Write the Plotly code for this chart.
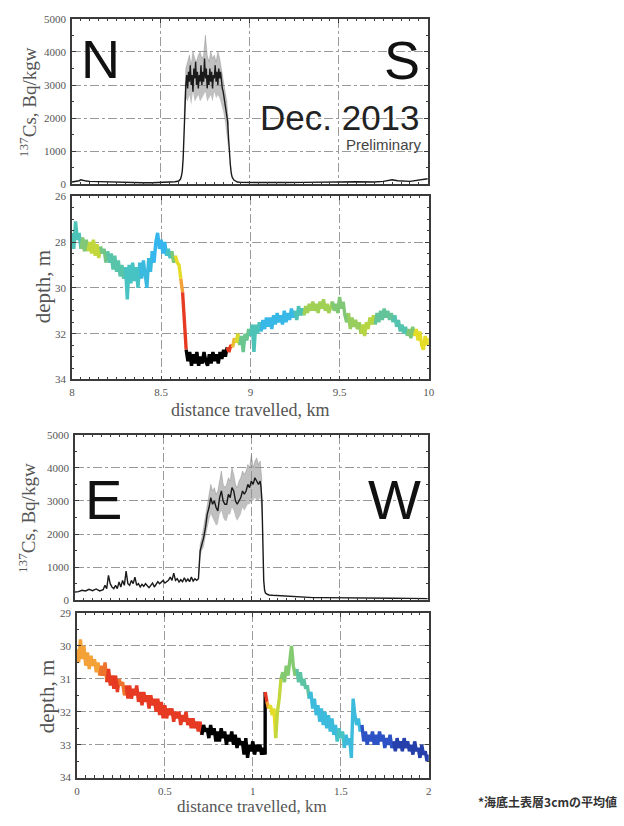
import plotly.graph_objects as go
from plotly.colors import sample_colorscale

W, H = 624, 826

# ---------------- data ----------------
# N-S line: 137Cs concentration (Bq/kg-wet) along distance (km)
ns_cs_km = [8.00, 8.02, 8.04, 8.05, 8.06, 8.08, 8.10, 8.15, 8.20, 8.25,
            8.30, 8.35, 8.40, 8.45, 8.50, 8.55, 8.58, 8.60, 8.61, 8.615,
            8.62, 8.625, 8.63, 8.635, 8.64,
            8.645, 8.65, 8.655, 8.66, 8.665, 8.67, 8.675, 8.68, 8.685, 8.69,
            8.695, 8.70, 8.705, 8.71, 8.715, 8.72, 8.725, 8.73, 8.735, 8.74,
            8.745, 8.75, 8.755, 8.76, 8.765, 8.77, 8.775, 8.78, 8.785, 8.79,
            8.795, 8.80, 8.805, 8.81, 8.815, 8.82, 8.825, 8.83, 8.835, 8.84,
            8.845, 8.85, 8.855, 8.86, 8.865, 8.87, 8.875, 8.88, 8.885, 8.89,
            8.895, 8.90, 8.91, 8.92, 8.93, 8.95, 9.00, 9.10, 9.20, 9.30,
            9.40, 9.50, 9.55, 9.60, 9.70, 9.75, 9.80, 9.83, 9.90, 9.95, 10.00]
ns_cs = [70, 80, 110, 140, 120, 100, 90, 80, 70, 65,
         60, 55, 50, 50, 55, 60, 80, 100, 160, 250,
         400, 800, 1700, 2600, 3000,
         3300, 2900, 3400, 3100, 3600, 3000, 3300, 2800, 3500, 3200,
         3700, 3000, 3400, 2900, 3300, 3100, 3600, 3000, 3400, 3100,
         3800, 3200, 3500, 2900, 3300, 3000, 3500, 3100, 3400, 2900,
         3300, 3200, 3600, 3100, 3400, 3000, 3500, 3200, 3400, 3100,
         2900, 2800, 2600, 2500, 2300, 2100, 1900, 1400, 900, 600,
         350, 220, 130, 90, 70, 60, 55, 50, 55, 60,
         70, 80, 90, 80, 70, 90, 140, 110, 90, 120, 170]
ns_band_km = [8.63, 8.64, 8.65, 8.66, 8.67, 8.68, 8.69, 8.70, 8.71, 8.72,
              8.73, 8.74, 8.75, 8.76, 8.77, 8.78, 8.79, 8.80, 8.81, 8.82,
              8.83, 8.84, 8.85, 8.86, 8.87, 8.88]
ns_band_hi = [2000, 3500, 3700, 3900, 3600, 4000, 3800, 3700, 3900, 4000,
              3800, 3900, 4500, 3900, 3700, 4000, 3800, 3900, 3700, 4000,
              3800, 3500, 3200, 2900, 2500, 1800]
ns_band_lo = [1500, 2600, 2500, 2700, 2400, 2800, 2500, 2600, 2700, 2500,
              2600, 2700, 2800, 2500, 2600, 2700, 2500, 2800, 2600, 2700,
              2600, 2400, 2200, 1900, 1500, 1000]

# N-S line: depth (m)
ns_depth_km = [8.00, 8.01, 8.02, 8.03, 8.04, 8.05, 8.06, 8.07, 8.08, 8.09,
               8.10, 8.11, 8.12, 8.13, 8.14, 8.15, 8.16, 8.17, 8.18, 8.19,
               8.20, 8.21, 8.22, 8.23, 8.24, 8.25, 8.26, 8.27, 8.28, 8.29,
               8.30, 8.31, 8.32, 8.33, 8.34, 8.35, 8.36, 8.37, 8.38, 8.39,
               8.40, 8.41, 8.42, 8.43, 8.44, 8.45, 8.46, 8.47, 8.48, 8.49,
               8.50, 8.51, 8.52, 8.53, 8.54, 8.55, 8.56, 8.57, 8.58, 8.59,
               8.60, 8.61, 8.62, 8.63, 8.64, 8.65, 8.66, 8.67, 8.68, 8.69,
               8.70, 8.71, 8.72, 8.73, 8.74, 8.75, 8.76, 8.77, 8.78, 8.79,
               8.80, 8.81, 8.82, 8.83, 8.84, 8.85, 8.86, 8.87, 8.88, 8.89,
               8.90, 8.91, 8.92, 8.93, 8.94, 8.95, 8.96, 8.97, 8.98, 8.99,
               9.00, 9.01, 9.02, 9.03, 9.04, 9.05, 9.06, 9.07, 9.08, 9.09,
               9.10, 9.11, 9.12, 9.13, 9.14, 9.15, 9.16, 9.17, 9.18, 9.19,
               9.20, 9.21, 9.22, 9.23, 9.24, 9.25, 9.26, 9.27, 9.28, 9.29,
               9.30, 9.31, 9.32, 9.33, 9.34, 9.35, 9.36, 9.37, 9.38, 9.39,
               9.40, 9.41, 9.42, 9.43, 9.44, 9.45, 9.46, 9.47, 9.48, 9.49,
               9.50, 9.51, 9.52, 9.53, 9.54, 9.55, 9.56, 9.57, 9.58, 9.59,
               9.60, 9.61, 9.62, 9.63, 9.64, 9.65, 9.66, 9.67, 9.68, 9.69,
               9.70, 9.71, 9.72, 9.73, 9.74, 9.75, 9.76, 9.77, 9.78, 9.79,
               9.80, 9.81, 9.82, 9.83, 9.84, 9.85, 9.86, 9.87, 9.88, 9.89,
               9.90, 9.91, 9.92, 9.93, 9.94, 9.95, 9.96, 9.97, 9.98, 9.99, 10.00]
ns_depth = [27.6, 28.3, 27.1, 27.9, 27.6, 28.3, 27.8, 28.4, 27.9, 28.4,
            28.0, 28.5, 27.9, 28.6, 28.1, 28.7, 28.2, 28.5, 28.3, 28.9,
            28.4, 28.9, 28.5, 29.2, 28.6, 29.3, 28.8, 29.5, 29.0, 29.6,
            29.1, 30.5, 29.0, 29.8, 28.9, 29.7, 29.1, 30.0, 28.9, 29.6,
            28.8, 29.5, 30.0, 28.7, 29.3, 28.4, 28.9, 28.0, 27.6, 28.3,
            27.9, 28.5, 28.0, 28.6, 28.3, 28.7, 28.4, 28.9, 28.6, 28.9,
            29.0, 29.6, 30.2, 31.6, 32.7, 33.2, 32.8, 33.4, 32.9, 33.3,
            32.8, 33.4, 33.0, 33.3, 32.8, 33.2, 33.4, 32.9, 33.3, 32.8,
            33.2, 32.9, 33.3, 32.8, 33.1, 32.7, 33.0, 32.6, 32.8, 32.5,
            32.6, 32.2, 32.4, 32.0, 32.5, 32.1, 32.8, 32.0, 32.3, 31.8,
            32.1, 31.6, 32.8, 31.6, 32.0, 31.5, 31.9, 31.4, 31.8, 31.3,
            31.7, 31.3, 31.8, 31.2, 31.6, 31.1, 31.5, 31.2, 31.6, 31.0,
            31.5, 31.1, 31.4, 30.9, 31.3, 31.0, 31.4, 30.8, 31.2, 30.9,
            31.2, 30.8, 31.1, 30.7, 31.0, 30.6, 31.0, 30.7, 31.1, 30.6,
            30.9, 30.5, 31.0, 30.7, 31.1, 30.8, 30.6, 31.0, 30.7, 31.1,
            30.4, 30.9, 30.6, 31.2, 31.5, 31.1, 31.8, 31.3, 31.7, 31.4,
            31.8, 31.5, 32.0, 31.6, 32.1, 31.5, 31.8, 31.3, 31.6, 31.2,
            31.6, 31.1, 31.5, 31.0, 31.4, 30.9, 31.3, 31.0, 31.4, 31.1,
            31.5, 31.2, 31.7, 31.4, 31.9, 31.6, 32.0, 31.7, 32.1, 31.8,
            32.2, 31.7, 32.1, 31.8, 32.3, 31.9, 32.5, 32.7, 32.1, 32.5, 32.2]
# colour of the depth trace = relative 137Cs level (0 low .. 1 high), by stretch start
ns_color_from_km = [8.00, 8.05, 8.09, 8.16, 8.20, 8.30, 8.38, 8.45, 8.53, 8.56,
                    8.58, 8.61, 8.62, 8.64, 8.87, 8.90, 8.92, 8.94, 9.00, 9.06,
                    9.25, 9.30, 9.46, 9.55, 9.62, 9.70, 9.80, 9.88, 9.92]
ns_color_level = [0.42, 0.55, 0.68, 0.52, 0.45, 0.40, 0.32, 0.28, 0.40, 0.55,
                  0.74, 0.84, 0.93, 1.0, 0.93, 0.80, 0.72, 0.50, 0.42, 0.30,
                  0.42, 0.62, 0.55, 0.60, 0.66, 0.48, 0.44, 0.55, 0.74]

# E-W line: 137Cs
ew_cs_km = [0.00, 0.02, 0.04, 0.06, 0.08, 0.10, 0.12, 0.14, 0.16, 0.17,
            0.18, 0.19, 0.20, 0.21, 0.22, 0.23, 0.24, 0.25, 0.26, 0.27,
            0.28, 0.29, 0.30, 0.31, 0.32, 0.33, 0.34, 0.35, 0.36, 0.37,
            0.38, 0.39, 0.40, 0.41, 0.42, 0.43, 0.44, 0.45, 0.46, 0.47,
            0.48, 0.49, 0.50, 0.51, 0.52, 0.53, 0.54, 0.55, 0.56, 0.57,
            0.58, 0.59, 0.60, 0.61, 0.62, 0.63, 0.64, 0.65, 0.66, 0.67,
            0.68, 0.69, 0.70, 0.705, 0.71, 0.72, 0.73, 0.74, 0.75, 0.76,
            0.77, 0.78, 0.79, 0.80, 0.81, 0.82, 0.83, 0.84, 0.85, 0.86,
            0.87, 0.88, 0.89, 0.90, 0.91, 0.92, 0.93, 0.94, 0.95, 0.96,
            0.97, 0.98, 0.99, 1.00, 1.01, 1.02, 1.03, 1.04, 1.05, 1.055,
            1.06, 1.065, 1.07, 1.075, 1.08, 1.09, 1.10, 1.12, 1.15, 1.20,
            1.25, 1.30, 1.35, 1.40, 1.50, 1.60, 1.70, 1.75, 1.80, 1.90, 2.00]
ew_cs = [250, 260, 300, 280, 330, 290, 340, 280, 320, 450,
         350, 750, 500, 400, 350, 450, 350, 550, 400, 600,
         450, 880, 500, 450, 600, 500, 700, 450, 500, 400,
         480, 420, 500, 420, 380, 450, 520, 400, 480, 560,
         500, 540, 600, 520, 560, 600, 700, 600, 820, 600,
         650, 550, 620, 560, 680, 570, 640, 560, 700, 580,
         650, 600, 650, 1100, 1500, 1700, 1900, 2200, 2600, 2800,
         3100, 2900, 3000, 2800, 2700, 3100, 3300, 3000, 2900, 2900,
         3200, 3100, 3400, 3300, 3000, 2900, 3000, 3100, 3300, 3200,
         3300, 3500, 3400, 3600, 3500, 3700, 3600, 3500, 3600, 3400,
         3000, 1500, 600, 300, 220, 180, 160, 150, 140, 130,
         110, 90, 80, 80, 70, 75, 70, 65, 60, 55, 50]
ew_band_km = [0.70, 0.71, 0.72, 0.73, 0.74, 0.75, 0.76, 0.77, 0.78, 0.79,
              0.80, 0.81, 0.82, 0.83, 0.84, 0.85, 0.86, 0.87, 0.88, 0.89,
              0.90, 0.91, 0.92, 0.93, 0.94, 0.95, 0.96, 0.97, 0.98, 0.99,
              1.00, 1.01, 1.02, 1.03, 1.04, 1.05, 1.06]
ew_band_hi = [800, 1700, 1900, 2200, 2500, 2900, 3200, 3500, 3300, 3400,
              3200, 3300, 3600, 3900, 3500, 3400, 3500, 3700, 3600, 4000,
              3800, 3500, 3400, 3600, 3700, 3900, 3800, 3900, 4100, 4000,
              4400, 4000, 4200, 4300, 4100, 4200, 3600]
ew_band_lo = [500, 1300, 1500, 1600, 1900, 2200, 2400, 2600, 2500, 2400,
              2260, 2300, 2600, 2700, 2500, 2400, 2400, 2600, 2600, 2800,
              2700, 2500, 2400, 2500, 2600, 2800, 2700, 2800, 2900, 2900,
              3000, 3000, 3100, 3000, 3000, 3100, 2500]

# E-W line: depth
ew_depth_km = [0.00, 0.01, 0.02, 0.03, 0.04, 0.05, 0.06, 0.07, 0.08, 0.09,
               0.10, 0.11, 0.12, 0.13, 0.14, 0.15, 0.16, 0.17, 0.18, 0.19,
               0.20, 0.21, 0.22, 0.23, 0.24, 0.25, 0.26, 0.27, 0.28, 0.29,
               0.30, 0.31, 0.32, 0.33, 0.34, 0.35, 0.36, 0.37, 0.38, 0.39,
               0.40, 0.41, 0.42, 0.43, 0.44, 0.45, 0.46, 0.47, 0.48, 0.49,
               0.50, 0.51, 0.52, 0.53, 0.54, 0.55, 0.56, 0.57, 0.58, 0.59,
               0.60, 0.61, 0.62, 0.63, 0.64, 0.65, 0.66, 0.67, 0.68, 0.69,
               0.70, 0.71, 0.72, 0.73, 0.74, 0.75, 0.76, 0.77, 0.78, 0.79,
               0.80, 0.81, 0.82, 0.83, 0.84, 0.85, 0.86, 0.87, 0.88, 0.89,
               0.90, 0.91, 0.92, 0.93, 0.94, 0.95, 0.96, 0.97, 0.98, 0.99,
               1.00, 1.01, 1.02, 1.03, 1.04, 1.05, 1.06, 1.07,
               1.07, 1.08, 1.09,
               1.10, 1.11, 1.12, 1.13, 1.14, 1.15, 1.16, 1.17, 1.18, 1.19,
               1.20, 1.21, 1.22, 1.23, 1.24, 1.25, 1.26, 1.27, 1.28, 1.29,
               1.30, 1.31, 1.32, 1.33, 1.34, 1.35, 1.36, 1.37, 1.38, 1.39,
               1.40, 1.41, 1.42, 1.43, 1.44, 1.45, 1.46, 1.47, 1.48, 1.49,
               1.50, 1.51, 1.52, 1.53, 1.54, 1.55, 1.56, 1.57, 1.58, 1.59,
               1.60, 1.61, 1.62, 1.63, 1.64, 1.65, 1.66, 1.67, 1.68, 1.69,
               1.70, 1.71, 1.72, 1.73, 1.74, 1.75, 1.76, 1.77, 1.78, 1.79,
               1.80, 1.81, 1.82, 1.83, 1.84, 1.85, 1.86, 1.87, 1.88, 1.89,
               1.90, 1.91, 1.92, 1.93, 1.94, 1.95, 1.96, 1.97, 1.98, 1.99, 2.00]
ew_depth = [30.1, 30.5, 29.8, 30.4, 30.0, 30.6, 30.2, 30.7, 30.3, 30.6,
            30.4, 30.8, 30.5, 30.9, 30.6, 30.9, 30.5, 31.1, 30.7, 31.2,
            30.9, 31.3, 30.9, 31.4, 31.0, 31.2, 31.1, 31.5, 31.2, 31.6,
            31.2, 31.6, 31.3, 31.5, 31.2, 31.7, 31.4, 31.8, 31.4, 31.7,
            31.5, 31.9, 31.5, 31.8, 31.6, 32.0, 31.6, 32.1, 31.7, 32.2,
            31.8, 32.2, 31.9, 32.1, 31.9, 32.3, 32.0, 32.2, 32.0, 32.4,
            32.1, 32.3, 32.0, 32.4, 32.2, 32.5, 32.2, 32.5, 32.3, 32.6,
            32.3, 32.7, 32.4, 32.6, 32.5, 32.8, 32.4, 32.7, 32.5, 32.9,
            32.6, 32.9, 32.5, 32.8, 32.6, 33.0, 32.7, 32.9, 32.6, 33.0,
            32.7, 33.1, 32.8, 33.0, 32.9, 33.3, 32.8, 33.4, 33.0, 33.2,
            32.9, 33.3, 33.0, 33.2, 33.0, 33.3, 33.1, 33.3,
            31.4, 31.7, 31.9,
            31.8, 32.1, 31.9, 32.8, 32.0, 31.6, 31.0, 30.8, 31.1, 30.6,
            30.9, 30.4, 30.0, 30.6, 30.9, 30.7, 31.1, 30.8, 31.2, 31.0,
            31.3, 31.2, 31.6, 31.4, 31.9, 31.6, 32.1, 31.8, 32.3, 31.9,
            32.4, 32.0, 32.5, 32.1, 32.6, 32.2, 32.7, 32.4, 32.9, 32.5,
            32.8, 32.6, 33.1, 32.7, 33.0, 32.8, 33.4, 31.6, 32.1, 32.4,
            32.2, 32.6, 32.4, 32.9, 32.6, 33.0, 32.7, 32.9, 32.6, 33.0,
            32.7, 33.0, 32.6, 32.9, 32.7, 33.1, 32.8, 33.0, 32.7, 33.1,
            32.9, 33.2, 32.8, 33.1, 32.9, 33.2, 32.8, 33.1, 32.9, 33.2,
            33.0, 33.3, 32.9, 33.2, 33.1, 33.4, 33.0, 33.3, 33.2, 33.5, 33.3]
ew_color_from_km = [0.00, 0.13, 0.17, 0.24, 0.28, 0.71, 1.072, 1.085, 1.095, 1.13,
                    1.16, 1.25, 1.32, 1.48, 1.52, 1.62, 1.80]
ew_color_level = [0.84, 0.88, 0.93, 0.88, 0.93, 1.0, 0.93, 0.84, 0.74, 0.68,
                  0.56, 0.46, 0.33, 0.40, 0.33, 0.12, 0.06]

cs_ticks = [0, 1000, 2000, 3000, 4000, 5000]
ns_km_ticks = [8, 8.5, 9, 9.5, 10]
ew_km_ticks = [0, 0.5, 1, 1.5, 2]
ns_depth_ticks = [26, 28, 30, 32, 34]
ew_depth_ticks = [29, 30, 31, 32, 33, 34]

# ---------------- styling ----------------
CSCALE = [[0.0, '#1f2f8f'], [0.12, '#2d52c6'], [0.28, '#35b6ee'], [0.40, '#46c3c2'],
          [0.52, '#71c585'], [0.64, '#abd34a'], [0.74, '#e4dc26'], [0.84, '#f4a238'],
          [0.93, '#e63a22'], [0.97, '#8a1a10'], [1.0, '#000000']]
SERIF = 'Liberation Serif, Times New Roman, serif'
SANS = 'Liberation Sans, Arial, sans-serif'
FRAME = '#3a3a3a'
GRID = '#9a9a9a'
TICKFONT = dict(family=SERIF, size=11, color='#555555')


def px_x(p):
    return p / W


def px_y(p):
    return 1 - p / H


fig = go.Figure()


def level_at(x, breaks, levels):
    lev = levels[0]
    for b, l in zip(breaks, levels):
        if x >= b - 1e-9:
            lev = l
    return lev


def add_depth(xs, ys, breaks, levels, xa, ya):
    seg = [level_at((xs[i] + xs[i + 1]) / 2, breaks, levels) for i in range(len(xs) - 1)]
    start = 0
    for i in range(1, len(seg) + 1):
        if i == len(seg) or seg[i] != seg[start]:
            color = sample_colorscale(CSCALE, [seg[start]])[0]
            fig.add_trace(go.Scatter(x=xs[start:i + 1], y=ys[start:i + 1], mode='lines',
                                     line=dict(color=color, width=3.4),
                                     xaxis=xa, yaxis=ya, showlegend=False, hoverinfo='skip'))
            start = i


def add_cs(xs, ys, bx, blo, bhi, xa, ya):
    fig.add_trace(go.Scatter(x=bx, y=blo, mode='lines', line=dict(width=0, color='rgba(0,0,0,0)'),
                             xaxis=xa, yaxis=ya, showlegend=False, hoverinfo='skip'))
    fig.add_trace(go.Scatter(x=bx, y=bhi, mode='lines', line=dict(width=0.6, color='rgba(120,120,120,0.6)'),
                             fill='tonexty', fillcolor='rgba(140,140,140,0.55)',
                             xaxis=xa, yaxis=ya, showlegend=False, hoverinfo='skip'))
    fig.add_trace(go.Scatter(x=xs, y=ys, mode='lines', line=dict(color='#1a1a1a', width=1.4),
                             xaxis=xa, yaxis=ya, showlegend=False, hoverinfo='skip'))


add_cs(ns_cs_km, ns_cs, ns_band_km, ns_band_lo, ns_band_hi, 'x', 'y')
add_depth(ns_depth_km, ns_depth, ns_color_from_km, ns_color_level, 'x2', 'y2')
add_cs(ew_cs_km, ew_cs, ew_band_km, ew_band_lo, ew_band_hi, 'x3', 'y3')
add_depth(ew_depth_km, ew_depth, ew_color_from_km, ew_color_level, 'x4', 'y4')


def xax(dom, rng, ticks, show, anchor):
    return dict(domain=dom, range=rng, tickvals=ticks, showticklabels=show, anchor=anchor,
                showline=True, linecolor=FRAME, linewidth=1.5, mirror='allticks',
                ticks='inside', ticklen=4, tickcolor=FRAME, tickwidth=1.2,
                minor=dict(ticks='inside', ticklen=2.5, dtick=0.05, tickcolor=FRAME, showgrid=False),
                showgrid=True, gridcolor=GRID, gridwidth=1, griddash='dashdot',
                zeroline=False, tickfont=TICKFONT, ticklabelstandoff=2)


def yax(dom, rng, ticks, anchor, mdt):
    return dict(domain=dom, range=rng, tickvals=ticks, anchor=anchor,
                showline=True, linecolor=FRAME, linewidth=1.5, mirror='allticks',
                ticks='inside', ticklen=4, tickcolor=FRAME, tickwidth=1.2,
                minor=dict(ticks='inside', ticklen=2.5, dtick=mdt, tickcolor=FRAME, showgrid=False),
                showgrid=True, gridcolor=GRID, gridwidth=1, griddash='dashdot',
                zeroline=False, tickfont=TICKFONT, ticklabelstandoff=2)


layout = dict(
    width=W, height=H, margin=dict(l=0, r=0, t=0, b=0),
    paper_bgcolor='white', plot_bgcolor='white', showlegend=False,
    xaxis=xax([px_x(70), px_x(431)], [8, 10], ns_km_ticks, False, 'y'),
    yaxis=yax([px_y(181), px_y(13)], [0, 5000], cs_ticks, 'x', 500),
    xaxis2=xax([px_x(70), px_x(432)], [8, 10], ns_km_ticks, True, 'y2'),
    yaxis2=yax([px_y(379), px_y(193)], [34, 26], ns_depth_ticks, 'x2', 0.5),
    xaxis3=xax([px_x(73), px_x(431)], [0, 2], ew_km_ticks, False, 'y3'),
    yaxis3=yax([px_y(603), px_y(435)], [0, 5000], cs_ticks, 'x3', 500),
    xaxis4=xax([px_x(75), px_x(432)], [0, 2], ew_km_ticks, True, 'y4'),
    yaxis4=yax([px_y(783), px_y(616)], [34, 29], ew_depth_ticks, 'x4', 0.5),
)
fig.update_layout(**layout)


def ann(text, cx, cy, size, family, color='#222', angle=0, xanchor='center', weight='normal'):
    fig.add_annotation(text=text, x=px_x(cx), y=px_y(cy), xref='paper', yref='paper',
                       xanchor=xanchor, yanchor='middle', showarrow=False, textangle=angle,
                       font=dict(family=family, size=size, color=color, weight=weight))


AXT = '#555555'
ann('<sup>137</sup>Cs, Bq/kgw', 25, 98, 19, SERIF, AXT, -90)
ann('depth, m', 40, 284, 21, SERIF, AXT, -90)
ann('distance travelled, km', 251, 410, 18, SERIF, AXT)
ann('<sup>137</sup>Cs, Bq/kgw', 25, 520, 19, SERIF, AXT, -90)
ann('depth, m', 44, 700, 21, SERIF, AXT, -90)
ann('distance travelled, km', 253, 812, 17, SERIF, AXT)

ann('N', 99, 54, 54, SANS, '#111')
ann('S', 405, 55, 54, SANS, '#111')
ann('Dec. 2013', 342, 113, 35, SANS, '#222')
ann('Preliminary', 427, 141, 15, SANS, '#444', xanchor='right')
ann('E', 102, 501, 56, SANS, '#111')
ann('W', 397, 501, 56, SANS, '#111')
ann('*海底土表層3cmの平均値', 480, 807, 12, 'Noto Sans CJK JP', '#333', xanchor='left', weight='bold')

fig.write_html('out.html')
